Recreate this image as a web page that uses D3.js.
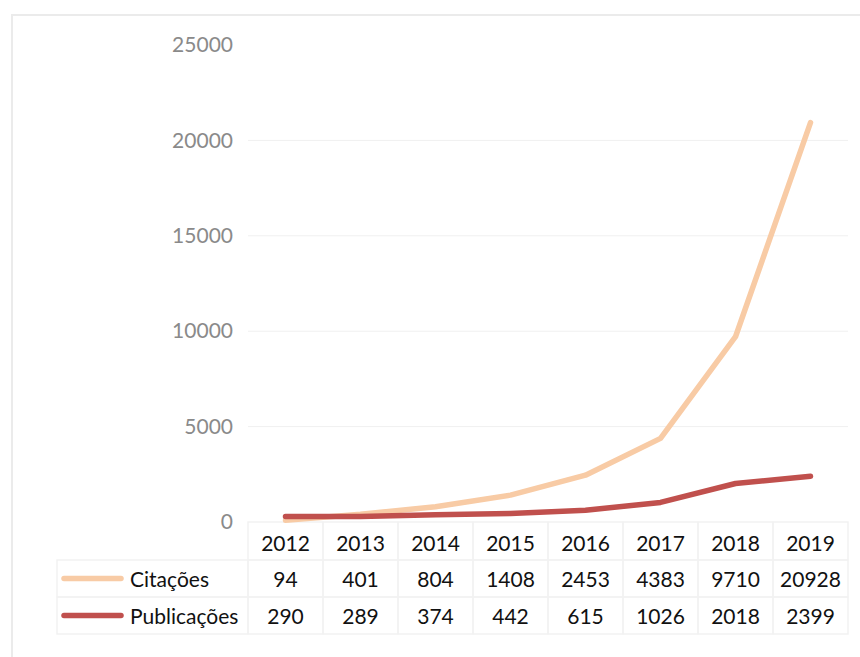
<!DOCTYPE html>
<html>
<head>
<meta charset="utf-8">
<script src="https://cdn.jsdelivr.net/npm/d3@7"></script>
<style>
  html, body { margin: 0; padding: 0; background: #fff; }
  svg { display: block; }
</style>
</head>
<body>
<svg id="chart" width="860" height="657"></svg>
<script>
// Yearly counts
const years = ["2012", "2013", "2014", "2015", "2016", "2017", "2018", "2019"];
const citacoes = [94, 401, 804, 1408, 2453, 4383, 9710, 20928];
const publicacoes = [290, 289, 374, 442, 615, 1026, 2018, 2399];
const yTicks = [0, 5000, 10000, 15000, 20000, 25000];

const series = [
  { name: "Citações", values: citacoes, color: "#f8cba5" },
  { name: "Publicações", values: publicacoes, color: "#c0504d" }
];

const W = 860, H = 657;
const plotLeft = 248, plotRight = 848, plotTop = 45, plotBottom = 522;
const rowH = 37;
const legendLeft = 57;
const font = "Lato, 'Open Sans', sans-serif";
const fs = 21;

const svg = d3.select("#chart");

// Outer frame (top and left edges visible)
svg.append("path")
  .attr("d", `M12,${H} L12,15 L${W},15`)
  .attr("fill", "none")
  .attr("stroke", "#ebebeb")
  .attr("stroke-width", 2);

const x = d3.scaleBand().domain(years).range([plotLeft, plotRight]);
const y = d3.scaleLinear().domain([0, 25000]).range([plotBottom, plotTop]);

// Horizontal gridlines
svg.append("g")
  .selectAll("line")
  .data(yTicks.filter(t => t > 0 && t < 25000))
  .join("line")
  .attr("x1", plotLeft).attr("x2", plotRight)
  .attr("y1", d => y(d)).attr("y2", d => y(d))
  .attr("stroke", "#f0f0f0")
  .attr("stroke-width", 1);

// Y axis labels
const yAxis = d3.axisLeft(y).tickValues(yTicks).tickSize(0).tickPadding(0)
  .tickFormat(d3.format("d"));
const gy = svg.append("g")
  .attr("transform", `translate(233,0)`)
  .call(yAxis);
gy.select(".domain").remove();
gy.selectAll("text")
  .attr("fill", "#8a8a8a")
  .attr("font-family", font)
  .attr("font-size", fs);

// Data table grid
const tableTop = plotBottom;
const grid = svg.append("g").attr("stroke", "#f2f2f2").attr("stroke-width", 1.5).attr("fill", "none");
// header row cells
years.forEach(yr => {
  grid.append("rect")
    .attr("x", x(yr)).attr("y", tableTop)
    .attr("width", x.bandwidth()).attr("height", rowH + 1);
});
// value rows
series.forEach((s, i) => {
  const ry = tableTop + rowH + 1 + i * rowH;
  grid.append("rect")
    .attr("x", legendLeft).attr("y", ry)
    .attr("width", plotLeft - legendLeft).attr("height", rowH);
  years.forEach(yr => {
    grid.append("rect")
      .attr("x", x(yr)).attr("y", ry)
      .attr("width", x.bandwidth()).attr("height", rowH);
  });
});

// Header years
svg.append("g")
  .selectAll("text")
  .data(years)
  .join("text")
  .attr("x", d => x(d) + x.bandwidth() / 2)
  .attr("y", tableTop + rowH / 2 + 2)
  .attr("text-anchor", "middle")
  .attr("dominant-baseline", "central")
  .attr("font-family", font)
  .attr("font-size", fs)
  .attr("fill", "#111")
  .text(d => d);

// Rows: legend key + values
series.forEach((s, i) => {
  const cy = tableTop + rowH + 1 + i * rowH + rowH / 2;
  const g = svg.append("g");
  g.append("line")
    .attr("x1", 64).attr("x2", 121)
    .attr("y1", cy).attr("y2", cy)
    .attr("stroke", s.color)
    .attr("stroke-width", 5.5)
    .attr("stroke-linecap", "round");
  g.append("text")
    .attr("x", 130).attr("y", cy)
    .attr("dominant-baseline", "central")
    .attr("font-family", font)
    .attr("font-size", fs)
    .attr("fill", "#111")
    .text(s.name);
  g.selectAll("text.v")
    .data(s.values)
    .join("text")
    .attr("class", "v")
    .attr("x", (d, j) => x(years[j]) + x.bandwidth() / 2)
    .attr("y", cy)
    .attr("text-anchor", "middle")
    .attr("dominant-baseline", "central")
    .attr("font-family", font)
    .attr("font-size", fs)
    .attr("fill", "#111")
    .text(d => d);
});

// Series lines
const line = d3.line()
  .x((d, j) => x(years[j]) + x.bandwidth() / 2)
  .y(d => y(d));

svg.append("g")
  .selectAll("path")
  .data(series)
  .join("path")
  .attr("d", d => line(d.values))
  .attr("fill", "none")
  .attr("stroke", d => d.color)
  .attr("stroke-width", 5.5)
  .attr("stroke-linecap", "round")
  .attr("stroke-linejoin", "round");
</script>
</body>
</html>
